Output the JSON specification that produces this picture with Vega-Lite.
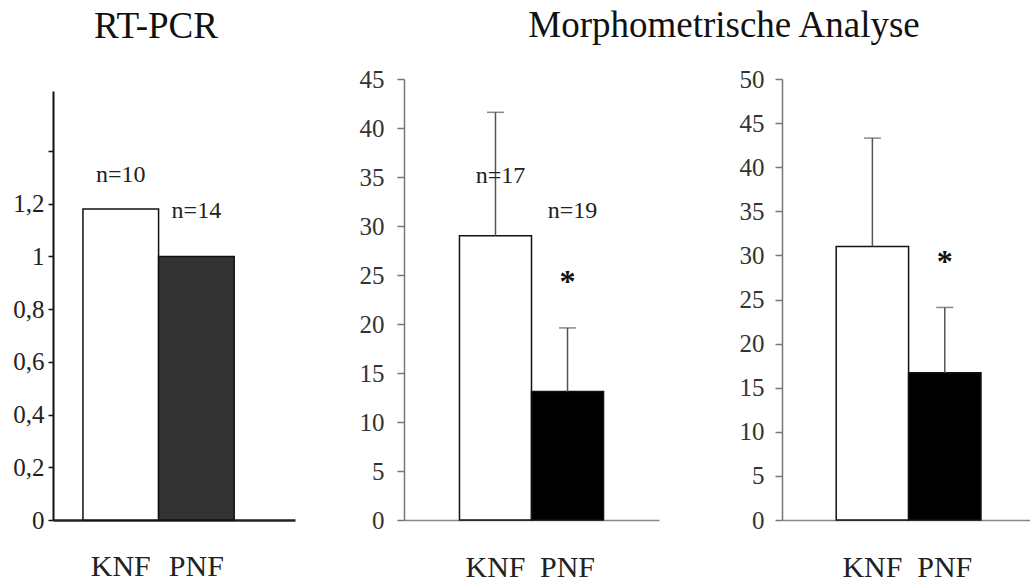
{
  "$schema": "https://vega.github.io/schema/vega-lite/v6.json",
  "background": "white",
  "padding": {"left": 12, "top": 7, "right": 0, "bottom": 0},
  "config": {
    "view": {"stroke": null},
    "title": {"font": "Liberation Serif", "fontSize": 37, "fontWeight": "normal", "color": "#111111"},
    "axis": {"grid": false, "title": null}
  },
  "resolve": {"scale": {"color": "independent"}},
  "datasets": {
    "rt": [
      {"group": "KNF", "value": 1.18, "n": "n=10", "ny": 1.283},
      {"group": "PNF", "value": 1.0, "n": "n=14", "ny": 1.146}
    ],
    "m1": [
      {"group": "KNF", "value": 29.0, "upper": 41.6, "n": "n=17", "ny": 34.4, "star": "", "sy": 0},
      {"group": "PNF", "value": 13.1, "upper": 19.6, "n": "n=19", "ny": 30.8, "star": "*", "sy": 23.3}
    ],
    "m2": [
      {"group": "KNF", "value": 31.0, "upper": 43.3, "star": "", "sy": 0},
      {"group": "PNF", "value": 16.7, "upper": 24.1, "star": "*", "sy": 28.1}
    ]
  },
  "spacing": 64,
  "hconcat": [
    {
      "width": 242,
      "height": 441,
      "title": {"text": "RT-PCR", "offset": 33, "dx": -18},
      "data": {"name": "rt"},
      "encoding": {
        "x": {
          "field": "group", "type": "nominal", "sort": ["KNF", "PNF"],
          "scale": {"paddingInner": 0, "paddingOuter": 0.6, "align": 0.33},
          "axis": {"labelAngle": 0, "ticks": false, "tickSize": 0, "domainColor": "#222222", "domainWidth": 2.5, "labelFont": "Times New Roman", "labelFontSize": 30, "labelColor": "#222222", "labelPadding": 31}
        }
      },
      "layer": [
        {
          "mark": {"type": "bar", "stroke": "#111111", "strokeWidth": 1.5},
          "encoding": {
            "y": {
              "field": "value", "type": "quantitative",
              "scale": {"domain": [0, 1.628], "nice": false, "zero": true, "range": [441, 12]},
              "axis": {"values": [0, 0.2, 0.4, 0.6, 0.8, 1, 1.2, 1.4], "format": "~g", "labelExpr": "datum.value > 1.3 ? '' : replace(datum.label, '.', ',')", "domainColor": "#111111", "domainWidth": 2, "tickColor": "#111111", "tickWidth": 1.5, "tickSize": 5, "labelPadding": 4, "labelFont": "Times New Roman", "labelFontSize": 25, "labelColor": "#222222"}
            },
            "color": {"field": "group", "type": "nominal", "scale": {"domain": ["KNF", "PNF"], "range": ["#ffffff", "#333333"]}, "legend": null}
          }
        },
        {
          "mark": {"type": "text", "font": "Liberation Serif", "fontSize": 24, "baseline": "alphabetic", "color": "#222222"},
          "encoding": {
            "y": {"field": "ny", "type": "quantitative"},
            "text": {"field": "n"}
          }
        }
      ]
    },
    {
      "title": {"text": "Morphometrische Analyse", "anchor": "middle", "offset": 22, "dx": 29},
      "spacing": 80,
      "resolve": {"scale": {"color": "shared"}},
      "hconcat": [
        {
          "width": 255,
          "height": 441,
          "data": {"name": "m1"},
          "encoding": {
            "x": {
              "field": "group", "type": "nominal", "sort": ["KNF", "PNF"],
              "scale": {"paddingInner": 0, "paddingOuter": 0.77, "align": 0.5},
              "axis": {"labelAngle": 0, "ticks": false, "tickSize": 0, "domainColor": "#888888", "domainWidth": 1.5, "labelFont": "Times New Roman", "labelFontSize": 30, "labelColor": "#222222", "labelPadding": 32}
            }
          },
          "layer": [
            {
              "mark": {"type": "bar", "stroke": "#111111", "strokeWidth": 1.5},
              "encoding": {
                "y": {
                  "field": "value", "type": "quantitative",
                  "scale": {"domain": [0, 45], "nice": false},
                  "axis": {"values": [0, 5, 10, 15, 20, 25, 30, 35, 40, 45], "domainColor": "#777777", "domainWidth": 1.5, "tickColor": "#777777", "tickWidth": 1.5, "tickSize": 7, "labelPadding": 13, "labelFont": "Times New Roman", "labelFontSize": 25, "labelColor": "#333333"}
                },
                "color": {"field": "group", "type": "nominal", "scale": {"domain": ["KNF", "PNF"], "range": ["#ffffff", "#000000"]}, "legend": null}
              }
            },
            {
              "mark": {"type": "rule", "color": "#555555", "strokeWidth": 1.5},
              "encoding": {"y": {"field": "value", "type": "quantitative"}, "y2": {"field": "upper"}}
            },
            {
              "mark": {"type": "tick", "orient": "horizontal", "size": 17, "thickness": 1.5, "color": "#555555"},
              "encoding": {"y": {"field": "upper", "type": "quantitative"}}
            },
            {
              "mark": {"type": "text", "font": "Liberation Serif", "fontSize": 24, "baseline": "alphabetic", "color": "#222222", "dx": 5},
              "encoding": {"y": {"field": "ny", "type": "quantitative"}, "text": {"field": "n"}}
            },
            {
              "transform": [{"filter": "datum.star != ''"}],
              "mark": {"type": "text", "font": "Liberation Serif", "fontSize": 32, "fontWeight": "bold", "baseline": "alphabetic", "color": "#111111"},
              "encoding": {"y": {"field": "sy", "type": "quantitative"}, "text": {"field": "star"}}
            }
          ]
        },
        {
          "width": 249,
          "height": 441,
          "data": {"name": "m2"},
          "encoding": {
            "x": {
              "field": "group", "type": "nominal", "sort": ["KNF", "PNF"],
              "scale": {"paddingInner": 0, "paddingOuter": 0.72, "align": 0.52},
              "axis": {"labelAngle": 0, "ticks": false, "tickSize": 0, "domainColor": "#888888", "domainWidth": 1.5, "labelFont": "Times New Roman", "labelFontSize": 30, "labelColor": "#222222", "labelPadding": 32}
            }
          },
          "layer": [
            {
              "mark": {"type": "bar", "stroke": "#111111", "strokeWidth": 1.5},
              "encoding": {
                "y": {
                  "field": "value", "type": "quantitative",
                  "scale": {"domain": [0, 50], "nice": false},
                  "axis": {"values": [0, 5, 10, 15, 20, 25, 30, 35, 40, 45, 50], "domainColor": "#777777", "domainWidth": 1.5, "tickColor": "#777777", "tickWidth": 1.5, "tickSize": 7, "labelPadding": 11, "labelFont": "Times New Roman", "labelFontSize": 25, "labelColor": "#333333"}
                },
                "color": {"field": "group", "type": "nominal", "scale": {"domain": ["KNF", "PNF"], "range": ["#ffffff", "#000000"]}, "legend": null}
              }
            },
            {
              "mark": {"type": "rule", "color": "#555555", "strokeWidth": 1.5},
              "encoding": {"y": {"field": "value", "type": "quantitative"}, "y2": {"field": "upper"}}
            },
            {
              "mark": {"type": "tick", "orient": "horizontal", "size": 17, "thickness": 1.5, "color": "#555555"},
              "encoding": {"y": {"field": "upper", "type": "quantitative"}}
            },
            {
              "transform": [{"filter": "datum.star != ''"}],
              "mark": {"type": "text", "font": "Liberation Serif", "fontSize": 32, "fontWeight": "bold", "baseline": "alphabetic", "color": "#111111"},
              "encoding": {"y": {"field": "sy", "type": "quantitative"}, "text": {"field": "star"}}
            }
          ]
        }
      ]
    }
  ]
}
